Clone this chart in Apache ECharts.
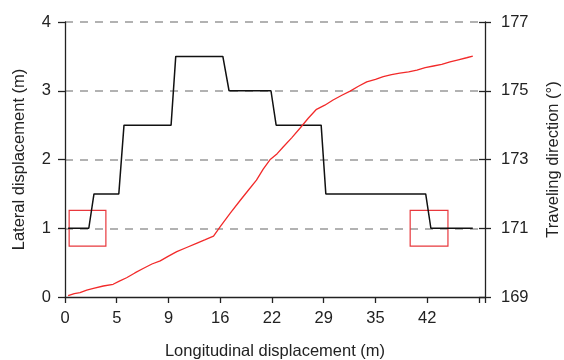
<!DOCTYPE html>
<html>
<head>
<meta charset="utf-8">
<script src="https://cdn.jsdelivr.net/npm/echarts@6/dist/echarts.min.js"></script>
<style>
  html, body { margin: 0; padding: 0; background: #fff; }
  #chart { width: 564px; height: 360px; }
</style>
</head>
<body>
<div id="chart"></div>
<script>
// x axis is drawn by tick index, labels are the real displacements
var xTickLabels = ['0', '5', '9', '16', '22', '29', '35', '42', ''];

// lateral displacement (m), black step line
var lateralX = [0.06, 0.46, 0.56, 1.04, 1.14, 2.05, 2.14, 3.05, 3.17, 3.98, 4.08, 4.95, 5.04, 6.97, 7.07, 7.88];
var lateralY = [1, 1, 1.5, 1.5, 2.5, 2.5, 3.5, 3.5, 3, 3, 2.5, 2.5, 1.5, 1.5, 1, 1];

// traveling direction (deg), red line
var headingX = [0.06, 0.18, 0.29, 0.42, 0.55, 0.74, 0.93, 1.05, 1.19, 1.35, 1.51, 1.68, 1.84, 2.00, 2.16, 2.35, 2.54, 2.70, 2.87, 3.00, 3.19, 3.38, 3.55, 3.70, 3.83, 3.96, 4.10, 4.22, 4.38, 4.54, 4.70, 4.86, 5.02, 5.18, 5.35, 5.51, 5.67, 5.83, 6.00, 6.15, 6.31, 6.47, 6.64, 6.80, 6.96, 7.12, 7.28, 7.44, 7.60, 7.76, 7.88];
var headingY = [169.04, 169.10, 169.13, 169.20, 169.25, 169.32, 169.37, 169.46, 169.56, 169.70, 169.83, 169.96, 170.05, 170.19, 170.32, 170.44, 170.56, 170.66, 170.77, 171.05, 171.43, 171.80, 172.12, 172.40, 172.72, 172.99, 173.17, 173.37, 173.63, 173.91, 174.20, 174.46, 174.58, 174.73, 174.87, 174.99, 175.13, 175.26, 175.33, 175.41, 175.47, 175.51, 175.55, 175.60, 175.67, 175.72, 175.77, 175.84, 175.90, 175.96, 176.01];

// highlighted boxes [x0, x1, y0, y1] in left axis units
var boxes = [[0.08, 0.79, 0.74, 1.26], [6.67, 7.40, 0.74, 1.26]];

var lateralData = [];
for (var i = 0; i < lateralX.length; i++) lateralData.push([lateralX[i], lateralY[i]]);
var headingData = [];
for (var j = 0; j < headingX.length; j++) headingData.push([headingX[j], headingY[j]]);
var boxAreas = boxes.map(function (b) {
  return [{ coord: [b[0], b[3]] }, { coord: [b[1], b[2]] }];
});

var font = 'Liberation Sans, Arial, sans-serif';
var fs = 16.5;
var chart = echarts.init(document.getElementById('chart'));
var option = {
  backgroundColor: '#fff',
  animation: false,
  grid: { left: 65, right: 79, top: 22, bottom: 63, containLabel: false, outerBoundsMode: 'none' },
  xAxis: {
    type: 'value',
    min: 0,
    max: 8.116,
    interval: 1,
    z: 5,
    name: 'Longitudinal displacement (m)',
    nameLocation: 'middle',
    nameGap: 46,
    nameTextStyle: { color: '#222', fontSize: fs, fontFamily: font },
    axisLine: { show: true, lineStyle: { color: '#222', width: 1.3 } },
    axisTick: { show: true, length: 6, lineStyle: { color: '#222', width: 1.3 } },
    axisLabel: {
      color: '#222', fontSize: fs, fontFamily: font, margin: 13,
      formatter: function (v) {
        if (Math.abs(v - Math.round(v)) > 1e-6) return '';
        return xTickLabels[Math.round(v)] || '';
      }
    },
    splitLine: { show: false }
  },
  yAxis: [{
    type: 'value',
    min: 0, max: 4, interval: 1,
    position: 'left',
    name: 'Lateral displacement (m)',
    nameLocation: 'middle',
    nameGap: 37,
    nameTextStyle: { color: '#222', fontSize: fs, fontFamily: font },
    axisLine: { show: true, lineStyle: { color: '#222', width: 1.3 } },
    axisTick: { show: true, length: 7, lineStyle: { color: '#222', width: 1.3 } },
    axisLabel: { color: '#222', fontSize: fs, fontFamily: font, margin: 14 },
    splitLine: { show: true, showMinLine: false, lineStyle: { color: '#999', width: 1.5, type: [8, 7] } }
  }, {
    type: 'value',
    min: 169, max: 177, interval: 2,
    position: 'right',
    name: 'Traveling direction (°)',
    nameLocation: 'middle',
    nameGap: 60,
    nameRotate: 90,
    nameTextStyle: { color: '#222', fontSize: fs, fontFamily: font },
    axisLine: { show: true, lineStyle: { color: '#222', width: 1.3 } },
    axisTick: { show: true, length: 6, lineStyle: { color: '#222', width: 1.3 } },
    axisLabel: { color: '#222', fontSize: fs, fontFamily: font, margin: 16 },
    splitLine: { show: false }
  }, {
    // inner half of the right axis ticks
    type: 'value',
    min: 169, max: 177, interval: 2,
    position: 'right',
    axisLine: { show: false },
    axisTick: { show: true, inside: true, length: 6, lineStyle: { color: '#222', width: 1.3 } },
    axisLabel: { show: false },
    splitLine: { show: false }
  }],
  series: [{
    name: 'Lateral displacement',
    type: 'line',
    yAxisIndex: 0,
    data: lateralData,
    showSymbol: false,
    lineStyle: { color: '#111', width: 1.5 },
    z: 3,
    markArea: {
      silent: true,
      itemStyle: { color: 'rgba(0,0,0,0)', borderColor: '#e8383d', borderWidth: 1.2 },
      data: boxAreas
    }
  }, {
    name: 'Traveling direction',
    type: 'line',
    yAxisIndex: 1,
    data: headingData,
    showSymbol: false,
    lineStyle: { color: '#f22a2a', width: 1.3 },
    z: 4
  }]
};
chart.setOption(option);
</script>
</body>
</html>
